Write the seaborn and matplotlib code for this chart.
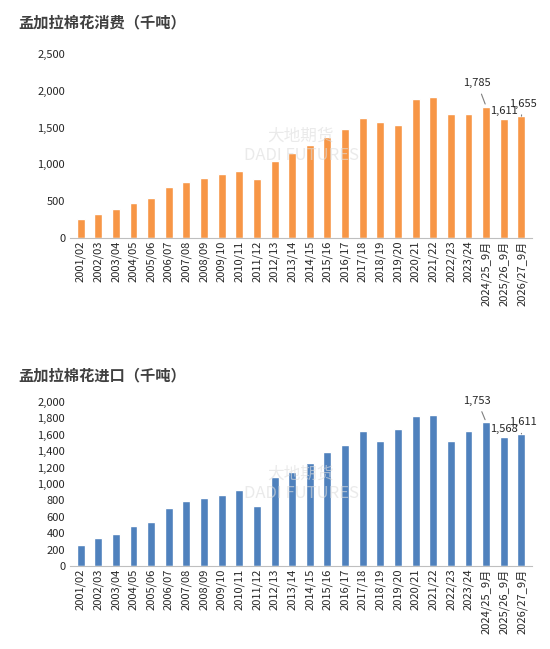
import matplotlib
matplotlib.use("Agg")
import matplotlib.pyplot as plt
import numpy as np
import pandas as pd
import seaborn as sns
from matplotlib.ticker import FuncFormatter, MultipleLocator

sns.set_style("white")
plt.rcParams["font.family"] = ["Noto Sans CJK SC", "DejaVu Sans"]

years = ["2001/02", "2002/03", "2003/04", "2004/05", "2005/06", "2006/07", "2007/08",
         "2008/09", "2009/10", "2010/11", "2011/12", "2012/13", "2013/14", "2014/15",
         "2015/16", "2016/17", "2017/18", "2018/19", "2019/20", "2020/21", "2021/22",
         "2022/23", "2023/24", "2024/25_9月", "2025/26_9月", "2026/27_9月"]
consumption = [255, 330, 390, 470, 545, 690, 760, 810, 870, 910, 800, 1040, 1150, 1260,
               1370, 1480, 1630, 1570, 1540, 1890, 1910, 1680, 1680, 1785, 1611, 1655]
imports = [256, 340, 390, 490, 535, 710, 790, 830, 870, 925, 735, 1090, 1150, 1255,
           1390, 1475, 1645, 1520, 1670, 1830, 1840, 1520, 1645, 1753, 1568, 1611]

W, H = 550, 649
fig = plt.figure(figsize=(5.5, 6.49), dpi=100)
ax1 = fig.add_axes([70 / W, 1 - 238 / H, 462 / W, 184 / H])
ax2 = fig.add_axes([70 / W, 1 - 566 / H, 462 / W, 164 / H])
panels = [
    (ax1, consumption, "#F79646", "孟加拉棉花消费（千吨）", 2500, 500, 22),
    (ax2, imports, "#4F81BD", "孟加拉棉花进口（千吨）", 2000, 200, 375),
]
for ax, vals, color, title, ymax, step, ty in panels:
    df = pd.DataFrame({"year": years, "value": vals})
    sns.barplot(data=df, x="year", y="value", color=color, width=0.45, ax=ax, saturation=1)
    ax.set_ylim(0, ymax)
    ax.set_xlim(-0.6, len(years) - 0.4)
    ax.yaxis.set_major_locator(MultipleLocator(step))
    ax.yaxis.set_major_formatter(FuncFormatter(lambda v, p: f"{int(v):,}"))
    ax.set_xlabel("")
    ax.set_ylabel("")
    ax.tick_params(axis="x", rotation=90, labelsize=8, length=0, pad=2)
    ax.tick_params(axis="y", labelsize=8, length=0)
    for s in ["top", "right", "left"]:
        ax.spines[s].set_visible(False)
    ax.spines["bottom"].set_color("#BFBFBF")
    fig.text(18 / W, 1 - ty / H, title, fontsize=11, fontweight="bold",
             color="#404040", va="center")
    ax.text(0.5, 0.5, "大地期货\nDADI FUTURES", transform=ax.transAxes, ha="center",
            va="center", fontsize=12, color="#DDDDDD", alpha=0.6)
    n = len(vals)
    offs = [ymax * 0.1, ymax * 0.02, ymax * 0.04]
    for k, dy in zip(range(n - 3, n), offs):
        y = vals[k]
        if k == n - 3:
            ax.annotate(f"{y:,}", xy=(k, y), xytext=(k - 0.5, y + dy), fontsize=8,
                        ha="center", va="bottom",
                        arrowprops=dict(arrowstyle="-", color="#7F7F7F", lw=0.8))
        elif k == n - 1:
            ax.annotate(f"{y:,}", xy=(k, y), xytext=(k + 0.1, y + dy), fontsize=8,
                        ha="center", va="bottom",
                        arrowprops=dict(arrowstyle="-", color="#7F7F7F", lw=0.8))
        else:
            ax.text(k, y + dy, f"{y:,}", fontsize=8, ha="center", va="bottom")

fig.savefig("out.png", dpi=100)
